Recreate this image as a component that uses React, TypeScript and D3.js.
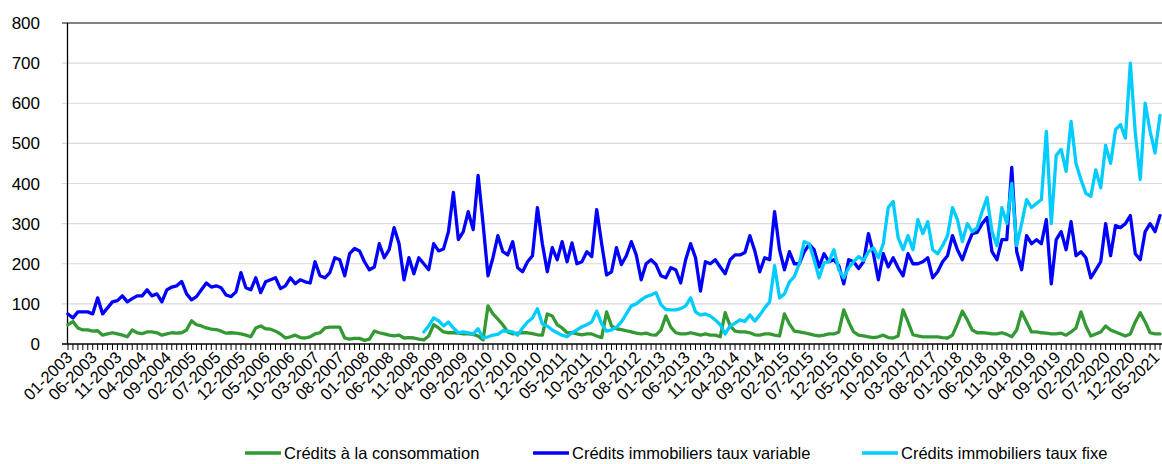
import React, { useEffect, useRef } from 'react'
import * as d3 from 'd3'

// monthly values, 01-2003 .. 06-2021 (one row per year)
const startYear = 2003

const conso = [
  48, 56, 40, 35, 35, 32, 33, 22, 25, 28, 25, 22,
  18, 35, 28, 26, 30, 30, 28, 22, 25, 28, 27, 28,
  35, 58, 48, 45, 40, 37, 36, 32, 27, 28, 27, 25,
  22, 18, 40, 45, 38, 37, 32, 25, 15, 18, 22, 16,
  15, 18, 25, 28, 40, 42, 42, 42, 15, 12, 14, 14,
  9, 12, 32, 28, 25, 22, 20, 22, 15, 16, 15, 12,
  10, 20, 48, 40, 30, 28, 28, 27, 25, 25, 24, 20,
  10, 95, 75, 62, 48, 30, 25, 27, 28, 28, 26, 23,
  22, 75, 70, 48, 40, 28, 28, 25, 23, 25, 25, 20,
  16, 80, 45, 38, 36, 33, 30, 27, 25, 27, 23, 22,
  35, 70, 42, 28, 25, 25, 28, 25, 22, 25, 22, 22,
  18, 78, 45, 32, 30, 30, 28, 23, 22, 25, 25, 22,
  20, 75, 50, 32, 30, 28, 25, 22, 20, 22, 25, 25,
  30, 85, 55, 30, 22, 20, 18, 16, 18, 22, 16, 15,
  20, 85, 55, 23, 20, 18, 18, 18, 18, 16, 15, 22,
  50, 82, 60, 35, 28, 28, 27, 25, 25, 28, 24, 18,
  35, 80, 55, 30, 30, 28, 27, 25, 25, 27, 22, 30,
  40, 80, 45, 20, 25, 30, 45, 35, 30, 25, 20, 25,
  55, 78, 55, 28, 25, 25,
]

const variable = [
  75, 65, 80, 80, 80, 75, 115, 75, 90, 105, 108, 120,
  105, 113, 120, 120, 135, 120, 125, 105, 135, 142, 145, 156,
  125, 110, 118, 135, 152, 142, 145, 140, 122, 118, 130, 178,
  140, 135, 165, 128, 155, 160, 165, 138, 145, 165, 150, 160,
  155, 152, 205, 170, 165, 178, 215, 210, 170, 225, 238, 232,
  205, 185, 192, 250, 215, 235, 290, 250, 160, 215, 175, 215,
  200, 185, 250, 232, 237, 280, 378, 260, 280, 330, 285, 420,
  300, 170, 215, 270, 230, 222, 255, 190, 180, 205, 220, 340,
  250, 180, 240, 210, 255, 205, 252, 200, 205, 230, 218, 335,
  250, 172, 180, 240, 198, 220, 255, 222, 160, 200, 210, 198,
  170, 165, 190, 185, 152, 210, 250, 215, 132, 205, 200, 210,
  192, 175, 210, 222, 222, 228, 270, 232, 180, 215, 210, 330,
  235, 185, 230, 200, 200, 230, 248, 235, 192, 225, 205, 210,
  195, 150, 210, 205, 188, 205, 275, 225, 160, 225, 192, 215,
  190, 170, 225, 200, 200, 205, 215, 165, 180, 205, 220, 270,
  235, 210, 245, 275, 278, 300, 315, 230, 210, 260, 260, 440,
  230, 185, 270, 250, 260, 250, 310, 150, 260, 280, 235, 305,
  220, 230, 215, 165, 185, 205, 300, 220, 295, 290, 300, 320,
  225, 210, 280, 300, 280, 320,
]

// fixed rate series only starts in 01-2009
const fixeStart = '01-2009'
const fixe = [
  30, 45, 65, 58, 45, 55, 40, 28, 30, 28, 25, 38,
  15, 18, 22, 24, 33, 32, 30, 22, 40, 55, 65, 88,
  50, 45, 35, 28, 22, 18, 28, 35, 43, 48, 55, 82,
  50, 32, 35, 42, 55, 75, 95, 100, 110, 118, 122, 128,
  98, 86, 85, 85, 88, 95, 115, 80, 72, 75, 70, 60,
  48, 25, 45, 52, 60, 56, 72, 57, 72, 90, 105, 195,
  115, 125, 155, 168, 200, 255, 250, 210, 165, 202, 205, 235,
  185, 165, 190, 205, 218, 208, 230, 240, 215, 250, 340, 355,
  265, 235, 270, 235, 310, 275, 305, 235, 225, 245, 270, 340,
  310, 255, 300, 280, 290, 330, 365, 280, 245, 340, 300, 400,
  245, 300, 360, 340, 350, 360, 530, 300, 470, 485, 430, 555,
  450, 410, 375, 368, 434, 389, 495, 450, 534, 547, 513, 700,
  526, 410, 600, 530, 476, 570,
]

const yTicks = [0, 100, 200, 300, 400, 500, 600, 700, 800]

const xTickLabels = [
  '01-2003', '06-2003', '11-2003', '04-2004', '09-2004', '02-2005', '07-2005', '12-2005',
  '05-2006', '10-2006', '03-2007', '08-2007', '01-2008', '06-2008', '11-2008', '04-2009',
  '09-2009', '02-2010', '07-2010', '12-2010', '05-2011', '10-2011', '03-2012', '08-2012',
  '01-2013', '06-2013', '11-2013', '04-2014', '09-2014', '02-2015', '07-2015', '12-2015',
  '05-2016', '10-2016', '03-2017', '08-2017', '01-2018', '06-2018', '11-2018', '04-2019',
  '09-2019', '02-2020', '07-2020', '12-2020', '05-2021',
]

const seriesNames = [
  'Crédits à la consommation',
  'Crédits immobiliers taux variable',
  'Crédits immobiliers taux fixe',
]
const colors = ['#339933', '#0000ff', '#00ccff']

const months = conso.map(
  (_, i) => `${String((i % 12) + 1).padStart(2, '0')}-${startYear + Math.floor(i / 12)}`
)

const App = () => {
  const svgRef = useRef<SVGSVGElement>(null)

  useEffect(() => {
    const w = 1162
    const h = 464
    const font = '"Liberation Sans", Arial, sans-serif'
    const svg = d3.select(svgRef.current)
    svg.selectAll('*').remove()

    const x = d3.scalePoint<string>().domain(months).range([68, 1160])
    const y = d3.scaleLinear().domain([0, 800]).range([344, 23])

    // gridlines
    svg.append('g')
      .selectAll('line')
      .data(yTicks.filter(t => t > 0 && t < 800))
      .join('line')
      .attr('x1', 62).attr('x2', w)
      .attr('y1', d => y(d)).attr('y2', d => y(d))
      .attr('stroke', '#d9d9d9').attr('stroke-width', 1.2)

    svg.append('line')
      .attr('x1', 62).attr('x2', w)
      .attr('y1', y(800)).attr('y2', y(800))
      .attr('stroke', '#5a5a5a').attr('stroke-width', 1.4)

    // y axis
    svg.append('line')
      .attr('x1', 67.5).attr('x2', 67.5)
      .attr('y1', y(800)).attr('y2', y(0))
      .attr('stroke', '#000').attr('stroke-width', 1.3)

    svg.append('g')
      .selectAll('text')
      .data(yTicks)
      .join('text')
      .attr('x', 40)
      .attr('y', d => y(d))
      .attr('dy', '0.36em')
      .attr('text-anchor', 'end')
      .attr('font-family', font)
      .attr('font-size', 17)
      .attr('fill', '#000')
      .text(d => d)

    // x axis
    svg.append('line')
      .attr('x1', 62).attr('x2', w)
      .attr('y1', y(0)).attr('y2', y(0))
      .attr('stroke', '#000').attr('stroke-width', 1.3)

    svg.append('g')
      .selectAll('line')
      .data(months)
      .join('line')
      .attr('x1', d => x(d)!).attr('x2', d => x(d)!)
      .attr('y1', y(0)).attr('y2', y(0) + 6)
      .attr('stroke', '#000').attr('stroke-width', 1)

    svg.append('g')
      .selectAll('text')
      .data(xTickLabels)
      .join('text')
      .attr('transform', d => `translate(${x(d)! - 3},${y(0) + 6}) rotate(-45)`)
      .attr('dy', '0.72em')
      .attr('text-anchor', 'end')
      .attr('font-family', font)
      .attr('font-size', 16.5)
      .attr('fill', '#000')
      .text(d => d)

    // series
    const offset = months.indexOf(fixeStart)
    const series = [
      { values: conso, start: 0 },
      { values: variable, start: 0 },
      { values: fixe, start: offset },
    ]
    series.forEach((s, k) => {
      const line = d3.line<number>()
        .x((d, i) => x(months[s.start + i])!)
        .y(d => y(d))
      svg.append('path')
        .datum(s.values)
        .attr('d', line)
        .attr('fill', 'none')
        .attr('stroke', colors[k])
        .attr('stroke-width', 3.3)
        .attr('stroke-linejoin', 'round')
        .attr('stroke-linecap', 'round')
    })

    // legend
    const legendX = [245, 533, 862]
    const legend = svg.append('g')
      .selectAll('g')
      .data(seriesNames)
      .join('g')
      .attr('transform', (d, i) => `translate(${legendX[i]},453)`)
    legend.append('line')
      .attr('x1', 0).attr('x2', 36)
      .attr('stroke', (d, i) => colors[i])
      .attr('stroke-width', 3.5)
    legend.append('text')
      .attr('x', 39)
      .attr('dy', '0.36em')
      .attr('font-family', font)
      .attr('font-size', 16.5)
      .attr('fill', '#000')
      .text(d => d)

    svg.attr('width', w).attr('height', h)
  }, [])

  return (
    <div>
      <svg
        ref={svgRef}
        width={1162}
        height={464}
        style={{ position: 'absolute', left: 0, top: 0, background: '#fff' }}
      />
    </div>
  )
}

export default App
